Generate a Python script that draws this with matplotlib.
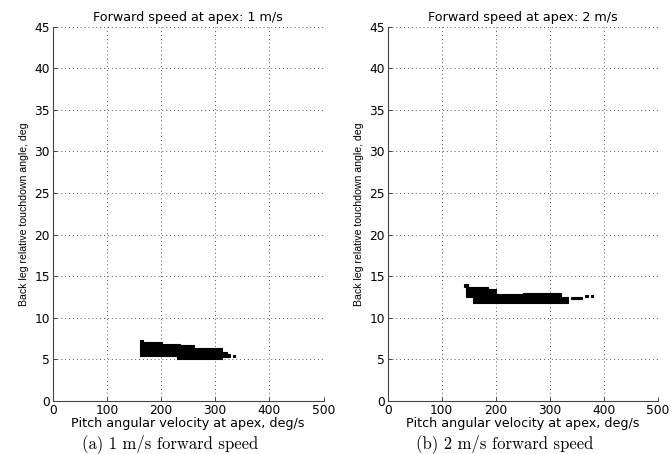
import matplotlib
matplotlib.use("Agg")
import matplotlib.pyplot as plt

# blobs of feasible apex states, stored as horizontal strips:
# (y_low, y_high, x_low, x_high) in deg and deg/s
speeds = [1, 2]
strips_1ms = [
    (5.0, 5.5, 230, 312),
    (5.4, 6.35, 162, 312),
    (6.35, 6.7, 162, 261),
    (6.7, 6.9, 162, 235),
    (6.9, 7.1, 162, 201),
    (7.1, 7.3, 162, 167),
    (5.3, 5.9, 312, 321),
    (5.3, 5.6, 321, 328),
    (5.3, 5.5, 332, 336),
]
strips_2ms = [
    (11.8, 12.5, 157, 334),
    (12.5, 12.8, 145, 320),
    (12.8, 13.0, 250, 321),
    (12.8, 13.5, 145, 201),
    (13.5, 13.7, 145, 186),
    (13.7, 14.0, 141, 148),
    (12.25, 12.45, 340, 360),
    (12.55, 12.75, 366, 370),
    (12.55, 12.75, 376, 380),
]
captions = ["(a) 1 m/s forward speed", "(b) 2 m/s forward speed"]
xticks = [0, 100, 200, 300, 400, 500]
yticks = [0, 5, 10, 15, 20, 25, 30, 35, 40, 45]

fig = plt.figure(figsize=(6.72, 4.54), dpi=100)
plt.rcParams['font.family'] = ['DejaVu Sans']

axes_pos = [[0.0784, 0.117, 0.403, 0.824], [0.577, 0.117, 0.402, 0.824]]
caption_x = [0.253, 0.751]

for pos, speed, strips, cap, cx in zip(axes_pos, speeds, [strips_1ms, strips_2ms], captions, caption_x):
    ax = fig.add_axes(pos)
    for y0, y1, x0, x1 in strips:
        ax.barh((y0 + y1) / 2, x1 - x0, height=y1 - y0, left=x0,
                color='black', edgecolor='black', linewidth=0.8)
    ax.set_xlim(0, 500)
    ax.set_ylim(0, 45)
    ax.set_xticks(xticks)
    ax.set_yticks(yticks)
    ax.grid(True, linestyle=(0, (1, 3)), color='#555555', linewidth=0.7)
    ax.set_axisbelow(True)
    for s in ['top', 'right']:
        ax.spines[s].set_visible(False)
    for s in ['left', 'bottom']:
        ax.spines[s].set_color('#444444')
        ax.spines[s].set_linewidth(0.8)
    ax.tick_params(direction='in', length=3, width=0.7, color='#444444',
                   labelsize=8.8, pad=2)
    ax.set_title(f"Forward speed at apex: {speed} m/s", fontsize=9.2, pad=4)
    ax.set_xlabel("Pitch angular velocity at apex, deg/s", fontsize=9.2, labelpad=0)
    ax.set_ylabel("Back leg relative touchdown angle, deg", fontsize=7.6,
                  labelpad=4, family='Liberation Sans')
    fig.text(cx, 0.022, cap, ha='center', va='center', fontsize=12,
             family='cmr10')

fig.savefig("out.png", dpi=100)
